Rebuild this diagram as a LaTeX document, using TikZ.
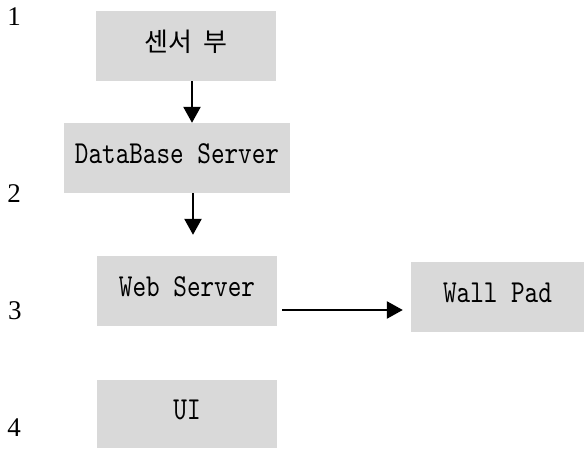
\documentclass[tikz,border=0pt]{standalone}
\usepackage{fontspec}
\newfontfamily\boxfont[FakeStretch=0.81]{lmmono10-regular.otf}
\newfontfamily\numfont{Liberation Serif}
\newfontfamily\kofont[WordSpace=2]{Noto Sans CJK KR}
\usetikzlibrary{arrows.meta}
\definecolor{boxgray}{HTML}{D9D9D9}
\tikzset{
  blk/.style={fill=boxgray, minimum height=70pt, inner sep=0pt,
    text height=19pt, text depth=9pt,
    font=\boxfont\fontsize{32}{36}\selectfont},
  flow/.style={line width=2.5pt, -{Triangle[length=16pt,width=17pt]}},
  num/.style={font=\numfont\fontsize{27}{32}\selectfont, inner sep=0pt}
}
\begin{document}
\begin{tikzpicture}[x=1pt,y=-1pt]
\useasboundingbox (0,0) rectangle (584,448);
% layer numbers
\node[num] (n1) at (14,17) {1};
\node[num] (n2) at (14,194) {2};
\node[num] (n3) at (15,311) {3};
\node[num] (n4) at (14,428) {4};
% blocks
\node[blk, minimum width=180pt, font=\kofont\fontsize{26}{30}\selectfont] (sensor) at (186,46) {센서 부};
\node[blk, minimum width=226pt] (db) at (177,158) {DataBase Server};
\node[blk, minimum width=180pt] (web) at (187,291) {Web Server};
\node[blk, minimum width=180pt, minimum height=68pt] (ui) at (187,414) {UI};
\node[blk, minimum width=173pt] (wall) at (497.5,297) {Wall Pad};
% data flow
\draw[flow] ([xshift=6pt]sensor.south) -- ([xshift=15pt]db.north);
\draw[flow] ([xshift=16pt]db.south) -- ([xshift=6pt,yshift=21pt]web.north);
\draw[flow] ([xshift=5pt,yshift=-19pt]web.east) -- ([xshift=-8pt,yshift=-13pt]wall.west);
\end{tikzpicture}
\end{document}
